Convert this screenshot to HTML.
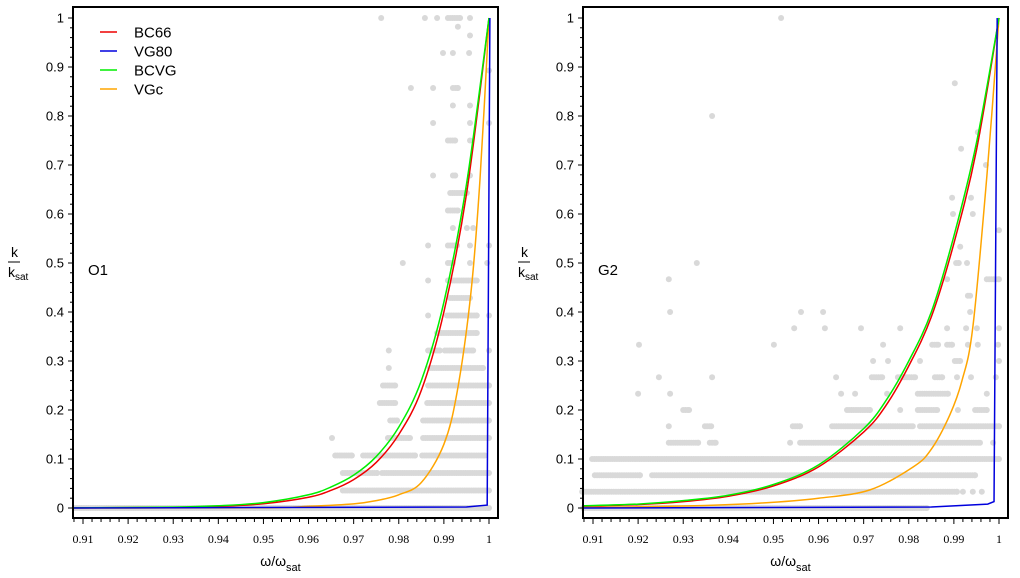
<!DOCTYPE html>
<html><head><meta charset="utf-8"><style>
html,body{margin:0;padding:0;background:#fff;}
svg{display:block;font-family:"Liberation Sans",sans-serif;}
</style></head><body>
<svg id="chart" width="1020" height="578"></svg>
<script>
// ---- data ----
const yTicks=[0,0.1,0.2,0.3,0.4,0.5,0.6,0.7,0.8,0.9,1];
const yTickLabels=["0","0.1","0.2","0.3","0.4","0.5","0.6","0.7","0.8","0.9","1"];
const xTicks=[0.91,0.92,0.93,0.94,0.95,0.96,0.97,0.98,0.99,1];
const xTickLabels=["0.91","0.92","0.93","0.94","0.95","0.96","0.97","0.98","0.99","1"];
const seriesNames=["BC66","VG80","BCVG","VGc"];
const seriesColors=["#ee0000","#0000dd","#00ee00","#ffa500"];
// Left panel O1
const o1RedW=[0.9078,0.93,0.94,0.95,0.96,0.965,0.97,0.975,0.98,0.985,0.99,0.995,1.0];
const o1RedK=[0.0002,0.0013,0.0033,0.0087,0.022,0.036,0.058,0.093,0.15,0.24,0.4,0.64,1.0];
const o1GreenW=[0.9078,0.93,0.94,0.95,0.96,0.965,0.97,0.975,0.98,0.985,0.99,0.995,1.0];
const o1GreenK=[0.0003,0.0018,0.0045,0.011,0.027,0.043,0.067,0.105,0.165,0.26,0.42,0.66,1.0];
const o1OrangeW=[0.9078,0.95,0.96,0.97,0.975,0.98,0.985,0.99,0.993,0.996,0.998,1.0];
const o1OrangeK=[0,0.0006,0.0035,0.0085,0.015,0.027,0.052,0.13,0.24,0.44,0.67,1.0];
const o1BlueW=[0.9078,0.995,0.9996,1.0002];
const o1BlueK=[0,0.002,0.006,1.0];
const o1Rows=[
[0,[[0.9082,1.0]]],[1,[[0.9676,1.0]]],[2,[[0.9676,0.9752],[0.9763,1.0]]],
[3,[[0.9659,0.9696],[0.9721,0.9836],[0.9852,0.9991]]],
[4,[0.9652,[0.9776,0.9825],[0.9854,1.0]]],[5,[[0.9781,0.9796],[0.9854,1.0]]],
[6,[[0.9758,0.9792],[0.9863,1.0]]],[7,[[0.9765,0.9792],[0.9865,1.0]]],
[8,[0.9778,[0.9869,0.9987]]],[9,[0.9778,[0.9865,0.9891],[0.9902,0.9965],1.0]],
[10,[[0.9885,0.9973]]],[11,[0.9865,[0.9907,0.9973],1.0]],[12,[[0.9914,0.9958]]],
[13,[0.9865,[0.9909,0.9973]]],[14,[0.9809,[0.9909,0.992],0.9958,0.9996]],
[15,[0.9865,[0.9909,0.9929],0.9958,1.0]],[16,[0.992,0.9951,0.9965]],[17,[[0.9909,0.9931]]],
[18,[[0.9914,0.9951]]],[19,[0.9876,[0.992,0.9925],0.9958]],[21,[[0.9909,0.9925],0.9958]],
[22,[0.9876,0.9958,1.0]],[23,[0.992,0.9958]],[24,[0.9827,0.9876,[0.992,0.9931]]],
[25,[1.0]],[26,[0.9898,0.992,0.9956]],[27,[0.9958]],[27.5,[0.9931]],
[28,[0.9761,0.9858,0.9885,[0.9909,0.9936],0.9958]]];
const o1Levels=28;
// Right panel G2
const g2RedW=[0.9078,0.92,0.93,0.94,0.95,0.96,0.97,0.975,0.98,0.985,0.99,0.995,1.0];
const g2RedK=[0.0037,0.007,0.013,0.024,0.045,0.084,0.155,0.21,0.29,0.39,0.54,0.73,1.0];
const g2GreenW=[0.9078,0.92,0.93,0.94,0.95,0.96,0.97,0.975,0.98,0.985,0.99,0.995,1.0];
const g2GreenK=[0.0045,0.008,0.015,0.026,0.048,0.088,0.162,0.22,0.30,0.40,0.555,0.745,1.0];
const g2OrangeW=[0.9078,0.93,0.947,0.96,0.9714,0.981,0.985,0.9891,0.9918,0.9942,0.9973,1.0];
const g2OrangeK=[0.001,0.004,0.01,0.02,0.037,0.084,0.12,0.19,0.26,0.369,0.676,1.0];
const g2BlueW=[0.9078,0.985,0.9975,0.9989,0.9996];
const g2BlueK=[0,0.002,0.008,0.013,1.0];
const g2Rows=[
[0,[[0.9078,0.984]]],[1,[[0.9076,0.9907],0.992,0.9942,0.9962]],
[2,[[0.9104,0.9204],[0.9231,0.9947]]],[3,[[0.9098,1.0]]],
[4,[[0.9268,0.9333],[0.9359,0.9372],0.9537,[0.9559,0.9958],0.9987]],
[5,[0.9268,[0.9348,0.9362],[0.9543,0.9559],[0.963,0.9809],[0.9825,1.0]]],
[6,[[0.93,0.9313],[0.9663,0.9714],0.9781,[0.982,0.9863],0.9909,[0.9947,0.9973]]],
[7,[0.92,0.9271,0.965,0.9681,0.9752,[0.982,0.9887],0.9973]],
[8,[0.9246,0.9364,0.9639,[0.9718,0.9741],[0.9776,0.9814],[0.9858,0.9874],0.9907,0.9938,0.9993]],
[9,[0.9721,0.9754,0.9825,[0.9902,0.9914],1.0]],
[10,[0.9202,0.9501,0.9743,[0.9852,0.9865],[0.9885,0.9896],0.9931,0.9953,0.9998]],
[11,[0.9546,0.9614,0.9694,0.9781,0.9885,0.9927,0.9951,1.0]],
[12,[0.9271,0.9561,0.961,0.9936]],[13,[0.9931,0.9936]],[14,[0.9268,0.9885,[0.9973,1.0]]],
[15,[0.933,[0.9905,0.9911],0.9929]],[16,[0.9914]],[17,[1.0]],[18,[0.9898,0.9942]],
[19,[0.9896,0.9938]],[21,[0.9971]],[22,[0.9916]],[23,[0.9953]],[24,[0.9364]],[26,[0.9902]],[30,[0.9517]]];
const g2Levels=30;

// ---- drawing ----
const NS="http://www.w3.org/2000/svg";
const svg=document.getElementById('chart');
function mk(tag,attrs,parent){const e=document.createElementNS(NS,tag);for(const k in attrs)e.setAttribute(k,attrs[k]);(parent||svg).appendChild(e);return e;}

function catmull(pts){
  let d="M"+pts[0][0].toFixed(2)+","+pts[0][1].toFixed(2);
  for(let i=0;i<pts.length-1;i++){
    const p0=pts[i-1]||pts[i],p1=pts[i],p2=pts[i+1],p3=pts[i+2]||p2;
    const c1=[p1[0]+(p2[0]-p0[0])/6,p1[1]+(p2[1]-p0[1])/6];
    const c2=[p2[0]-(p3[0]-p1[0])/6,p2[1]-(p3[1]-p1[1])/6];
    d+="C"+c1[0].toFixed(2)+","+c1[1].toFixed(2)+" "+c2[0].toFixed(2)+","+c2[1].toFixed(2)+" "+p2[0].toFixed(2)+","+p2[1].toFixed(2);
  }
  return d;
}

function panel(cfg){
  const L=cfg.left,R=cfg.right,T=7,B=518;
  const x0=cfg.x091;
  const xs=w=>x0+(w-0.91)*4511;
  const ys=k=>508-k*490;
  const g=mk('g',{});
  
  
  const dg=mk('g',{fill:'#d9d9d9'},g);
  
  
  cfg.rows.forEach(r=>{
    const k=r[0]/cfg.levels;
    r[1].forEach(item=>{
      let ws=[];
      if(Array.isArray(item)){for(let w=item[0];w<=item[1]+1e-9;w+=0.0005)ws.push(w);ws.push(item[1]);}
      else ws=[item];
      ws.forEach(w=>{const c=mk('circle',{cx:xs(w).toFixed(1),cy:ys(k).toFixed(1),r:3},dg);
        
        });
    });
  });
  cfg.curves.forEach(cv=>{
    const pts=cv.w.map((w,i)=>[xs(w),ys(cv.k[i])]);
    let d;
    if(cv.poly){d="M"+pts.map(p=>p[0].toFixed(2)+","+p[1].toFixed(2)).join("L");}
    else d=catmull(pts);
    const p=mk('path',{d:d,fill:'none',stroke:cv.color,'stroke-width':1.5},g);
    
    
  });
  const fr=mk('rect',{x:L,y:T,width:R-L,height:B-T,fill:'none',stroke:'#000','stroke-width':2},g);
  
  
  const yg=mk('g',{stroke:'#000','stroke-width':1},g);
  
  
  for(let i=0;i<=50;i++){const k=i*0.02;const y=ys(k);if(y<T||y>B)continue;
    mk('line',{x1:L,x2:L-(i%5==0?5:3),y1:y,y2:y},yg);}
  yTicks.forEach((k,i)=>{const t=mk('text',{x:L-9,y:ys(k)+4.5,'text-anchor':'end','font-size':13,fill:'#000',stroke:'none'},g);
    t.textContent=yTickLabels[i];
    
    });
  const xg=mk('g',{stroke:'#000','stroke-width':1},g);
  
  
  for(let i=0;i<=50;i++){const w=0.908+i*0.002;const x=xs(w);if(x<L||x>R)continue;
    const major=Math.abs(((w-0.91)/0.01)-Math.round((w-0.91)/0.01))<1e-6;
    mk('line',{x1:x,x2:x,y1:B,y2:B+(major?6:4)},xg);}
  xTicks.forEach((w,i)=>{const t=mk('text',{x:xs(w),y:543,'text-anchor':'middle','font-size':12,fill:'#000','font-family':'"Liberation Serif",serif'},g);
    t.textContent=xTickLabels[i];
    
    });
  const xt=mk('text',{x:(L+R)/2-5,y:566,'text-anchor':'middle','font-size':14,fill:'#000'},g);
  xt.innerHTML='ω/ω<tspan font-size="11" dy="5">sat</tspan>';
  
  
  const yt=mk('g',{},g);
  
  
  const tx=cfg.ytx;
  const a=mk('text',{x:tx+3,y:257,'font-size':14,fill:'#000'},yt);a.textContent='k';
  mk('line',{x1:tx,x2:tx+12,y1:262,y2:262,stroke:'#000','stroke-width':1},yt);
  const b=mk('text',{x:tx,y:277,'font-size':14,fill:'#000'},yt);
  b.innerHTML='k<tspan font-size="10" dy="3">sat</tspan>';
  const pl=mk('text',{x:L+15,y:275,'font-size':15,fill:'#000'},g);
  pl.textContent=cfg.label;
  
  
  return g;
}

panel({name:'panel-o1',left:73,right:498,x091:83,rows:o1Rows,levels:o1Levels,label:'O1',ytx:8,
 curves:[{name:'curve-vgc',w:o1OrangeW,k:o1OrangeK,color:seriesColors[3]},
         {name:'curve-bc66',w:o1RedW,k:o1RedK,color:seriesColors[0]},
         {name:'curve-bcvg',w:o1GreenW,k:o1GreenK,color:seriesColors[2]},
         {name:'curve-vg80',w:o1BlueW,k:o1BlueK,color:seriesColors[1],poly:true}]});
panel({name:'panel-g2',left:583,right:1008,x091:593,rows:g2Rows,levels:g2Levels,label:'G2',ytx:518,
 curves:[{name:'curve-vgc',w:g2OrangeW,k:g2OrangeK,color:seriesColors[3]},
         {name:'curve-bc66',w:g2RedW,k:g2RedK,color:seriesColors[0]},
         {name:'curve-bcvg',w:g2GreenW,k:g2GreenK,color:seriesColors[2]},
         {name:'curve-vg80',w:g2BlueW,k:g2BlueK,color:seriesColors[1],poly:true}]});

const lg=mk('g',{});


seriesNames.forEach((n,i)=>{
  const y=32+i*19;
  const e=mk('g',{},lg);
  
  
  mk('line',{x1:100,x2:117,y1:y,y2:y,stroke:seriesColors[i],'stroke-width':1.5},e);
  const t=mk('text',{x:134,y:y+5.5,'font-size':15,fill:'#000'},e);t.textContent=n;
});
</script>
</body></html>
